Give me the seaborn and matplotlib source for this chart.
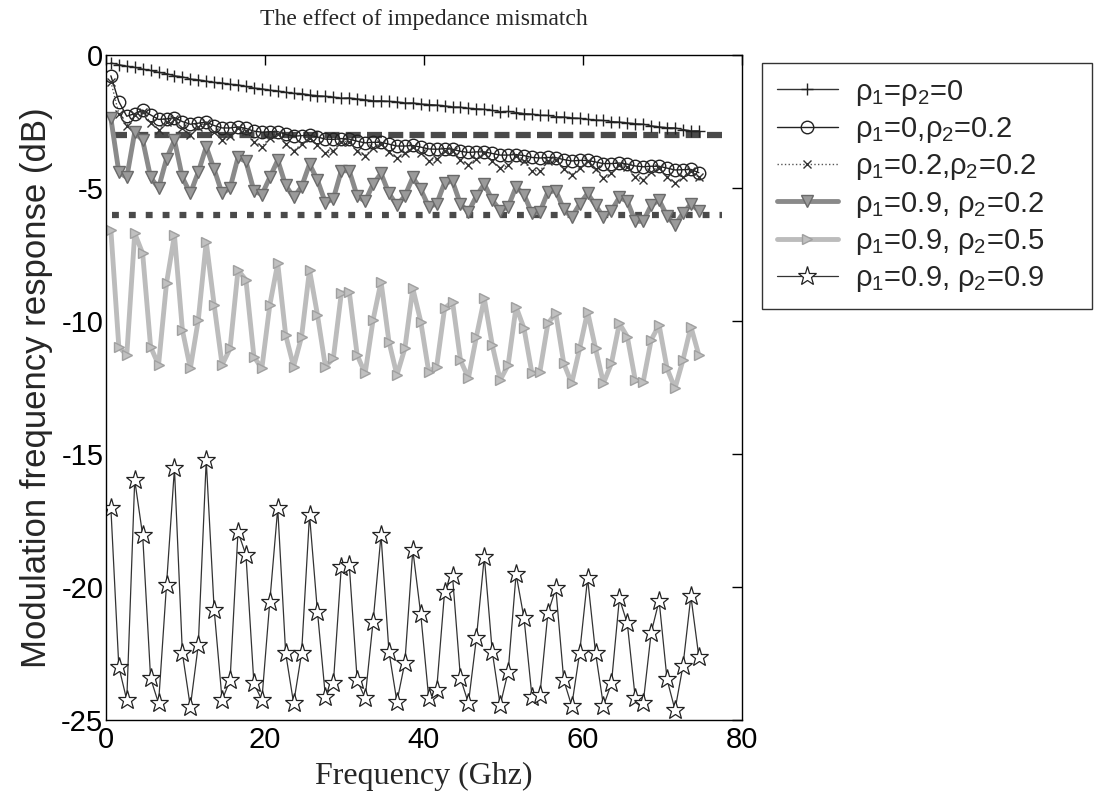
import numpy as np
import pandas as pd
import matplotlib
matplotlib.use("Agg")
import matplotlib.pyplot as plt
import seaborn as sns

# ---------------- data ----------------
freq = [0.6, 1.6, 2.6, 3.6, 4.6, 5.6, 6.6, 7.6, 8.6, 9.6,
        10.6, 11.6, 12.6, 13.6, 14.6, 15.6, 16.6, 17.6, 18.6, 19.6,
        20.6, 21.6, 22.6, 23.6, 24.6, 25.6, 26.6, 27.6, 28.6, 29.6,
        30.6, 31.6, 32.6, 33.6, 34.6, 35.6, 36.6, 37.6, 38.6, 39.6,
        40.6, 41.6, 42.6, 43.6, 44.6, 45.6, 46.6, 47.6, 48.6, 49.6,
        50.6, 51.6, 52.6, 53.6, 54.6, 55.6, 56.6, 57.6, 58.6, 59.6,
        60.6, 61.6, 62.6, 63.6, 64.6, 65.6, 66.6, 67.6, 68.6, 69.6,
        70.6, 71.6, 72.6, 73.6, 74.6]

r00 = [-0.30, -0.36, -0.42, -0.46, -0.53, -0.58, -0.65, -0.70, -0.78, -0.82,
       -0.90, -0.93, -0.98, -1.03, -1.05, -1.10, -1.12, -1.18, -1.24, -1.27,
       -1.32, -1.35, -1.40, -1.44, -1.45, -1.50, -1.53, -1.55, -1.58, -1.62,
       -1.61, -1.65, -1.68, -1.72, -1.72, -1.74, -1.76, -1.80, -1.80, -1.84,
       -1.86, -1.88, -1.91, -1.95, -1.96, -2.00, -2.02, -2.04, -2.08, -2.13,
       -2.12, -2.16, -2.20, -2.22, -2.26, -2.27, -2.32, -2.33, -2.36, -2.38,
       -2.42, -2.44, -2.46, -2.50, -2.52, -2.55, -2.58, -2.60, -2.66, -2.70,
       -2.73, -2.74, -2.80, -2.85, -2.85]

r0_02 = [-0.78, -1.75, -2.30, -2.20, -2.07, -2.25, -2.42, -2.40, -2.35, -2.50,
         -2.60, -2.56, -2.52, -2.65, -2.74, -2.74, -2.70, -2.76, -2.86, -2.90,
         -2.88, -2.88, -2.98, -3.05, -3.03, -3.02, -3.08, -3.16, -3.17, -3.14,
         -3.16, -3.24, -3.30, -3.28, -3.28, -3.35, -3.42, -3.42, -3.40, -3.46,
         -3.53, -3.54, -3.52, -3.54, -3.62, -3.66, -3.64, -3.64, -3.70, -3.76,
         -3.76, -3.74, -3.78, -3.85, -3.87, -3.85, -3.86, -3.93, -3.98, -3.96,
         -3.96, -4.02, -4.08, -4.08, -4.06, -4.10, -4.17, -4.20, -4.18, -4.18,
         -4.25, -4.32, -4.31, -4.30, -4.42]

r02_02 = [-1.00, -2.20, -2.65, -2.25, -2.15, -2.55, -2.80, -2.50, -2.40, -2.75,
          -3.00, -2.70, -2.55, -2.90, -3.20, -3.05, -2.75, -2.85, -3.25, -3.45,
          -3.10, -2.95, -3.35, -3.60, -3.35, -3.10, -3.40, -3.70, -3.60, -3.25,
          -3.25, -3.60, -3.78, -3.50, -3.35, -3.65, -3.88, -3.70, -3.45, -3.70,
          -3.98, -3.90, -3.60, -3.60, -3.95, -4.12, -3.90, -3.70, -4.00, -4.25,
          -4.15, -3.80, -4.00, -4.35, -4.35, -4.00, -3.95, -4.30, -4.50, -4.25,
          -4.00, -4.30, -4.62, -4.45, -4.15, -4.20, -4.60, -4.68, -4.40, -4.25,
          -4.60, -4.80, -4.60, -4.35, -4.60]

r09_02 = [-2.38, -4.40, -4.60, -2.90, -3.20, -4.60, -5.00, -3.90, -3.20, -4.60,
          -5.20, -4.40, -3.45, -4.30, -5.20, -5.00, -3.85, -4.00, -5.10, -5.25,
          -4.60, -3.95, -4.90, -5.35, -4.95, -4.10, -4.70, -5.55, -5.40, -4.35,
          -4.35, -5.30, -5.50, -4.85, -4.45, -5.20, -5.65, -5.30, -4.60, -5.05,
          -5.70, -5.60, -4.80, -4.75, -5.60, -5.90, -5.30, -4.85, -5.45, -5.85,
          -5.70, -4.95, -5.25, -5.95, -5.90, -5.15, -5.10, -5.80, -6.10, -5.60,
          -5.20, -5.65, -6.10, -5.85, -5.35, -5.50, -6.25, -6.25, -5.65, -5.45,
          -6.05, -6.40, -5.95, -5.60, -5.85]

r09_05 = [-6.58, -10.97, -11.28, -6.70, -7.46, -10.97, -11.65, -8.58, -6.77, -10.34,
          -11.78, -9.96, -7.02, -9.40, -11.65, -11.03, -8.08, -8.46, -11.34, -11.78,
          -9.40, -7.83, -10.53, -11.71, -10.59, -8.08, -9.77, -11.71, -11.40, -8.96,
          -8.90, -11.28, -11.97, -9.96, -8.52, -10.78, -12.03, -11.03, -8.77, -10.02,
          -11.90, -11.71, -9.52, -9.27, -11.47, -12.15, -10.59, -9.15, -10.90, -12.22,
          -11.65, -9.46, -10.28, -11.97, -11.90, -10.09, -9.71, -11.59, -12.34, -11.03,
          -9.65, -11.03, -12.34, -11.59, -10.09, -10.59, -12.22, -12.28, -10.71, -10.15,
          -11.78, -12.53, -11.47, -10.21, -11.28]

r09_09 = [-17.04, -23.00, -24.25, -15.98, -18.05, -23.43, -24.37, -19.92, -15.54, -22.49,
          -24.50, -22.18, -15.23, -20.86, -24.25, -23.50, -17.92, -18.80, -23.62, -24.25,
          -20.55, -17.04, -22.49, -24.37, -22.49, -17.29, -20.93, -24.12, -23.62, -19.24,
          -19.17, -23.50, -24.18, -21.30, -18.05, -22.43, -24.31, -22.84, -18.61, -21.02,
          -24.16, -23.87, -20.18, -19.59, -23.43, -24.37, -21.93, -18.86, -22.43, -24.44,
          -23.18, -19.51, -21.18, -24.12, -24.04, -20.99, -20.05, -23.50, -24.47, -22.47,
          -19.67, -22.47, -24.47, -23.62, -20.43, -21.37, -24.18, -24.35, -21.72, -20.51,
          -23.47, -24.62, -22.97, -20.34, -22.62]

ref_levels = [-3, -6]
ref_span = [0.8, 77.5]

labels = [r"$\rho_1$=$\rho_2$=0",
          r"$\rho_1$=0,$\rho_2$=0.2",
          r"$\rho_1$=0.2,$\rho_2$=0.2",
          r"$\rho_1$=0.9, $\rho_2$=0.2",
          r"$\rho_1$=0.9, $\rho_2$=0.5",
          r"$\rho_1$=0.9, $\rho_2$=0.9"]

x_ticks = [0, 20, 40, 60, 80]
y_ticks = [-25, -20, -15, -10, -5, 0]

# ---------------- style ----------------
sns.set_theme(style="white")
plt.rcParams["font.family"] = ["Liberation Sans", "DejaVu Sans"]
plt.rcParams["axes.unicode_minus"] = False
plt.rcParams["mathtext.fontset"] = "custom"
plt.rcParams["mathtext.rm"] = "Liberation Sans"
plt.rcParams["mathtext.it"] = "Liberation Sans"
plt.rcParams["mathtext.sf"] = "Liberation Sans"

fig = plt.figure(figsize=(10.94, 7.98), dpi=100)
ax = fig.add_axes([0.097, 0.0977, 0.581, 0.8333])

# reference lines
ax.plot(ref_span, [ref_levels[0]] * 2, color="#4a4a4a", lw=4.5,
        dashes=(2.4, 1.0), solid_capstyle="butt", zorder=1)
ax.plot(ref_span, [ref_levels[1]] * 2, color="#4a4a4a", lw=4.5,
        dashes=(1.1, 1.6), zorder=1)

series = [r00, r0_02, r02_02, r09_02, r09_05, r09_09]
styles = [
    dict(color="#333333", lw=1.0, ls="-", marker="+", markersize=9,
         mfc="none", mec="#222222", mew=1.0),
    dict(color="#222222", lw=1.0, ls="-", marker="o", markersize=9,
         mfc="none", mec="#222222", mew=1.0),
    dict(color="#555555", lw=1.0, ls=":", marker="x", markersize=6,
         mfc="none", mec="#333333", mew=1.0),
    dict(color="#8a8a8a", lw=3.5, ls="-", marker="v", markersize=9,
         mfc="#9a9a9a", mec="#6a6a6a", mew=1.0),
    dict(color="#bcbcbc", lw=3.5, ls="-", marker=">", markersize=7,
         mfc="#c0c0c0", mec="#a0a0a0", mew=1.0),
    dict(color="#333333", lw=0.9, ls="-", marker="*", markersize=14,
         mfc="white", mec="#222222", mew=0.9),
]

for vals, lab, st in zip(series, labels, styles):
    df = pd.DataFrame({"freq": freq, "resp": vals})
    sns.lineplot(data=df, x="freq", y="resp", ax=ax, label=lab,
                 estimator=None, sort=False, **st)

ax.set_xlim(0, 80)
ax.set_ylim(-25, 0)
ax.set_xticks(x_ticks)
ax.set_yticks(y_ticks)
ax.tick_params(axis="both", which="major", direction="in", length=7,
               width=1, labelsize=21, top=True, right=True, pad=4,
               colors="black")
ax.tick_params(axis="y", pad=2)
for s in ax.spines.values():
    s.set_color("black")
    s.set_linewidth(1.0)

ax.set_xlabel("Frequency (Ghz)", fontsize=23, family=["Liberation Serif"],
              labelpad=6)
ax.set_ylabel("Modulation frequency response (dB)", fontsize=25,
              labelpad=6)
ax.set_title("The effect of impedance mismatch", fontsize=17,
             family=["Liberation Serif"], pad=22)

leg = ax.legend(loc="upper left", bbox_to_anchor=(0.6965, 0.921, 0.3016, 0.0),
                bbox_transform=fig.transFigure, mode="expand", fontsize=21,
                frameon=True, fancybox=False, shadow=False, borderaxespad=0,
                handlelength=2.1, handletextpad=0.6, labelspacing=0.25,
                borderpad=0.5)
leg.get_frame().set_edgecolor("black")
leg.get_frame().set_linewidth(1.0)

fig.savefig("out.png", dpi=100)
